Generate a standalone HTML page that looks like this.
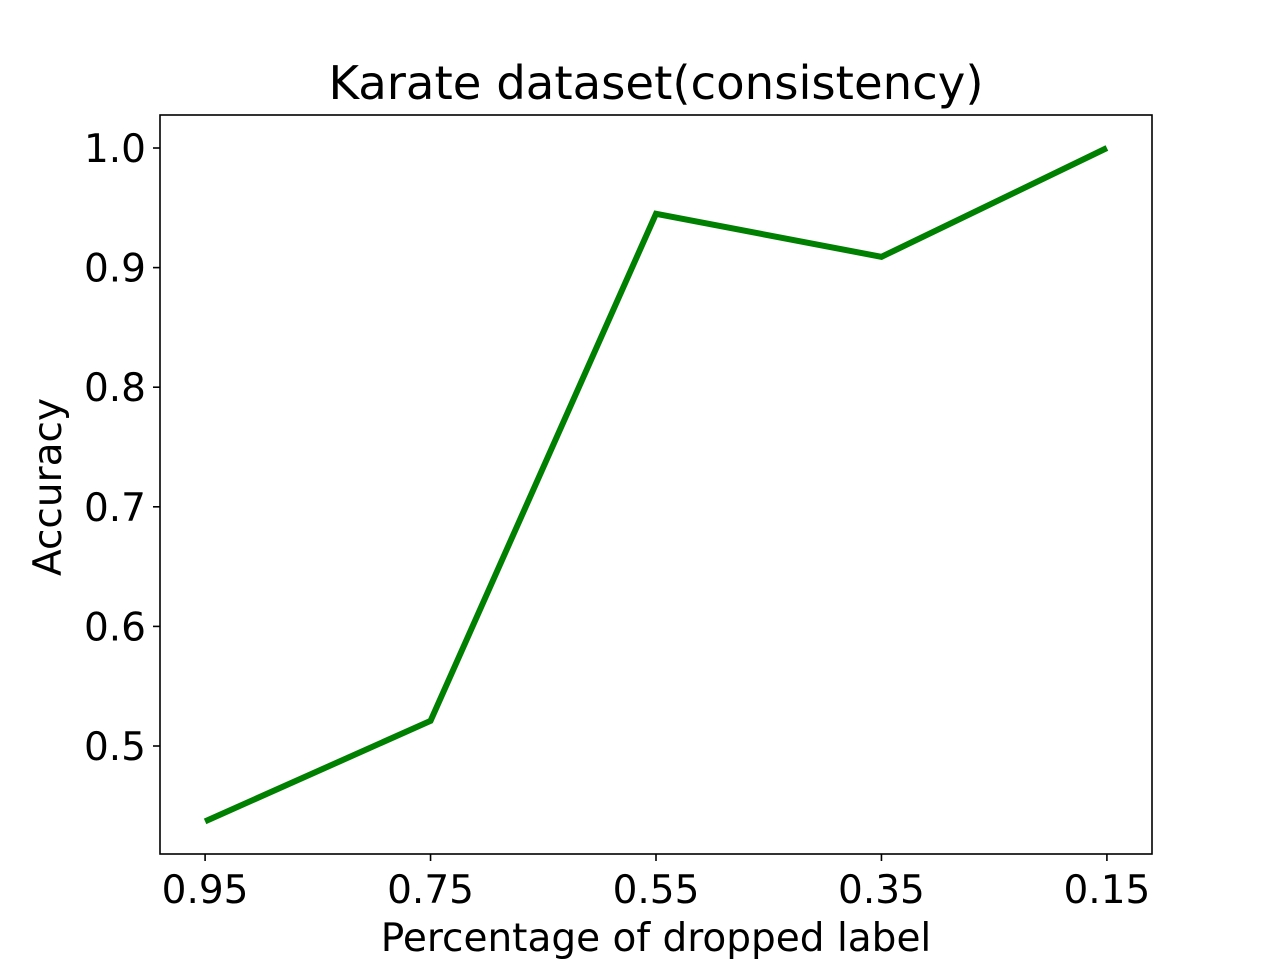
<!DOCTYPE html>
<html><head><meta charset="utf-8"><style>
html,body{margin:0;padding:0;background:#fff;}
svg text{font-family:"DejaVu Sans","Liberation Sans",sans-serif;fill:#000;}
</style></head><body>
<svg id="chart" width="1280" height="960" xmlns="http://www.w3.org/2000/svg">
<text x="656" y="99" font-size="46.6" text-anchor="middle">Karate dataset(consistency)</text>
<g id="plot"></g>
<rect x="160" y="115" width="992" height="739" fill="none" stroke="#000" stroke-width="1.6"/>
<text x="656" y="951" font-size="39" text-anchor="middle">Percentage of dropped label</text>
<text transform="translate(61,487) rotate(-90)" font-size="39" text-anchor="middle">Accuracy</text>
</svg>
<script>
const categories = ["0.95","0.75","0.55","0.35","0.15"];
const accuracy = [0.437, 0.521, 0.945, 0.909, 1.0];
const yTicks = [0.5, 0.6, 0.7, 0.8, 0.9, 1.0];
const yTickLabels = ["0.5","0.6","0.7","0.8","0.9","1.0"];

const L=160,R=1152,T=115,B=854;
const xMin=-0.2,xMax=categories.length-1+0.2;
const yMin=0.4097,yMax=1.0276;
function xs(i){return L+(i-xMin)/(xMax-xMin)*(R-L);}
function ys(v){return B-(v-yMin)/(yMax-yMin)*(B-T);}
const NS="http://www.w3.org/2000/svg";
const g=document.getElementById('plot');
function mk(tag,attrs){const e=document.createElementNS(NS,tag);for(const k in attrs)e.setAttribute(k,attrs[k]);g.appendChild(e);return e;}

categories.forEach((c,i)=>{
  const x=xs(i);
  const t=mk('line',{x1:x,x2:x,y1:B,y2:B+7,stroke:'#000','stroke-width':1.6});
  
  
  const lb=mk('text',{x:x,y:B+49,'font-size':39,'text-anchor':'middle'});
  lb.textContent=c;
  
  
});
yTicks.forEach((v,i)=>{
  const y=ys(v);
  const t=mk('line',{x1:L-7,x2:L,y1:y,y2:y,stroke:'#000','stroke-width':1.6});
  
  
  const lb=mk('text',{x:L-14,y:y+14,'font-size':39,'text-anchor':'end'});
  lb.textContent=yTickLabels[i];
  
  
});
const pts=accuracy.map((v,i)=>xs(i)+','+ys(v)).join(' ');
const line=mk('polyline',{points:pts,fill:'none',stroke:'#008000','stroke-width':6,'stroke-linejoin':'miter','stroke-linecap':'butt'});


</script>
</body></html>
